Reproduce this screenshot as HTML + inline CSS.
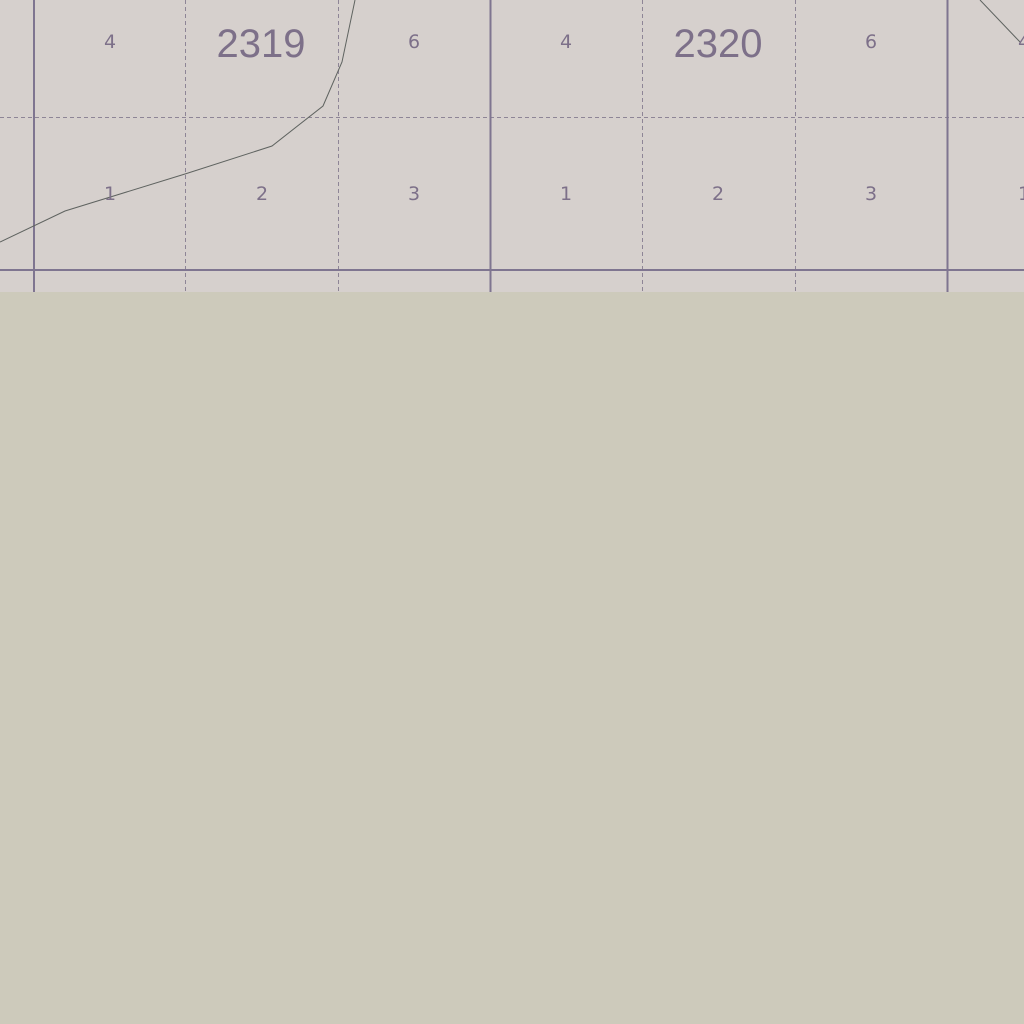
<!DOCTYPE html>
<html><head><meta charset="utf-8"><style>
html,body{margin:0;padding:0;background:#cdcabb;width:1024px;height:1024px;overflow:hidden}
svg{display:block}
text{font-family:"DejaVu Sans","Liberation Sans",sans-serif;fill:#7d7089;text-anchor:middle}
.big{font-family:"Liberation Sans",sans-serif}
</style></head><body>
<svg width="1024" height="1024">
<rect x="0" y="0" width="1024" height="292" fill="#d6d0cd"/>
<rect x="0" y="292" width="1024" height="732" fill="#cdcabb"/>
<g stroke="#8e8596" stroke-width="1" stroke-dasharray="4,3">
<line x1="185.5" y1="0" x2="185.5" y2="292"/>
<line x1="338.5" y1="0" x2="338.5" y2="292"/>
<line x1="642.5" y1="0" x2="642.5" y2="292"/>
<line x1="795.5" y1="0" x2="795.5" y2="292"/>
<line x1="0" y1="117.5" x2="1024" y2="117.5"/>
</g>
<g stroke="#7f7590" stroke-width="2">
<line x1="34" y1="0" x2="34" y2="292"/>
<line x1="490.5" y1="0" x2="490.5" y2="292"/>
<line x1="947.5" y1="0" x2="947.5" y2="292"/>
<line x1="0" y1="270" x2="1024" y2="270"/>
</g>
<polyline fill="none" stroke="#5f6360" stroke-width="1" points="0,242 65,211 185,174 272,146 323,106 342,62 355,0"/>
<polyline fill="none" stroke="#5f6360" stroke-width="1" points="980,0 1020,42"/>
<g font-size="19">
<text x="110" y="48">4</text>
<text x="414" y="48">6</text>
<text x="566" y="48">4</text>
<text x="871" y="48">6</text>
<text x="110" y="200">1</text>
<text x="262" y="200">2</text>
<text x="414" y="200">3</text>
<text x="566" y="200">1</text>
<text x="718" y="200">2</text>
<text x="871" y="200">3</text>
<text x="1024" y="200">1</text>
<text x="1024" y="48">4</text>
</g>
<g font-size="40" class="big">
<text class="big" x="261" y="57">2319</text>
<text class="big" x="718" y="57">2320</text>
</g>
</svg>
</body></html>
